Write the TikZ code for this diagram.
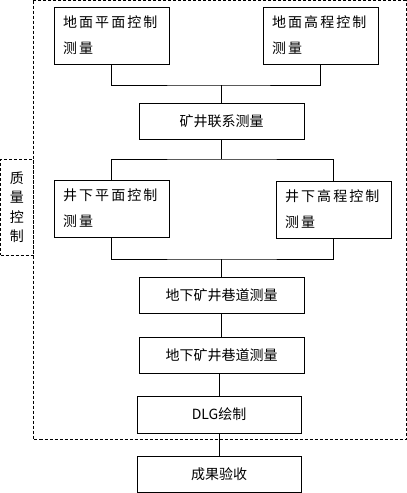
\documentclass[tikz,border=0pt]{standalone}
\usepackage{fontspec}
\setmainfont{Noto Sans CJK SC}
\newfontfamily\widecjk[LetterSpace=15]{Noto Sans CJK SC}

\begin{document}
\begin{tikzpicture}[x=1pt,y=-1pt,
  flowbox/.style={draw,line width=0.8pt,minimum width=165pt,minimum height=36pt,font=\fontsize{14}{17}\selectfont},
  twolinebox/.style={draw,line width=0.8pt,minimum width=115pt,minimum height=57pt,text width=97pt,inner xsep=9pt,align=left,font=\widecjk\fontsize{14}{26}\selectfont},
  qcline/.style={line width=0.8pt,dash pattern=on 3pt off 2pt}]
  \useasboundingbox (0,0) rectangle (407,493);
  % Quality control frame
  \draw[qcline] (33,0.5) rectangle (406,439);
  \node[draw,qcline,minimum width=32.5pt,minimum height=96pt,text width=14pt,align=center,inner sep=0pt,
    font=\fontsize{14}{19.5}\selectfont] (zl) at (16.75,207) {质\\量\\控\\制};
  % Boxes
  \node[twolinebox] (gp) at (111.5,35.5) {地面平面控制\\测量};
  \node[twolinebox] (gh) at (320.5,35.5) {地面高程控制\\测量};
  \node[flowbox] (lx) at (221.5,121) {矿井联系测量};
  \node[twolinebox] (jp) at (111.5,208.5) {井下平面控制\\测量};
  \node[twolinebox] (jh) at (333.5,209.5) {井下高程控制\\测量};
  \node[flowbox] (xd1) at (221.5,295) {地下矿井巷道测量};
  \node[flowbox] (xd2) at (221.5,355) {地下矿井巷道测量};
  \node[flowbox,minimum width=164pt,minimum height=37pt] (dlg) at (219,414.5) {DLG绘制};
  \node[flowbox,minimum width=164pt] (cg) at (219,474) {成果验收};
  % Connectors
  \coordinate (j1) at (221.5,85);
  \coordinate (j2) at (221.5,159);
  \coordinate (j3) at (221.5,259);
  \begin{scope}[line width=0.8pt]
    \draw (gp.south) |- (j1) -| (gh.south);
    \draw (j1) -- (lx.north);
    \draw (lx.south) -- (j2);
    \draw (jp.north) |- (j2) -| (jh.north);
    \draw (jp.south) |- (j3) -| (jh.south);
    \draw (j3) -- (xd1.north);
    \draw (xd1) -- (xd2);
    \draw (dlg.north) -- (dlg.north |- xd2.south);
    \draw (dlg) -- (cg);
  \end{scope}
\end{tikzpicture}
\end{document}
